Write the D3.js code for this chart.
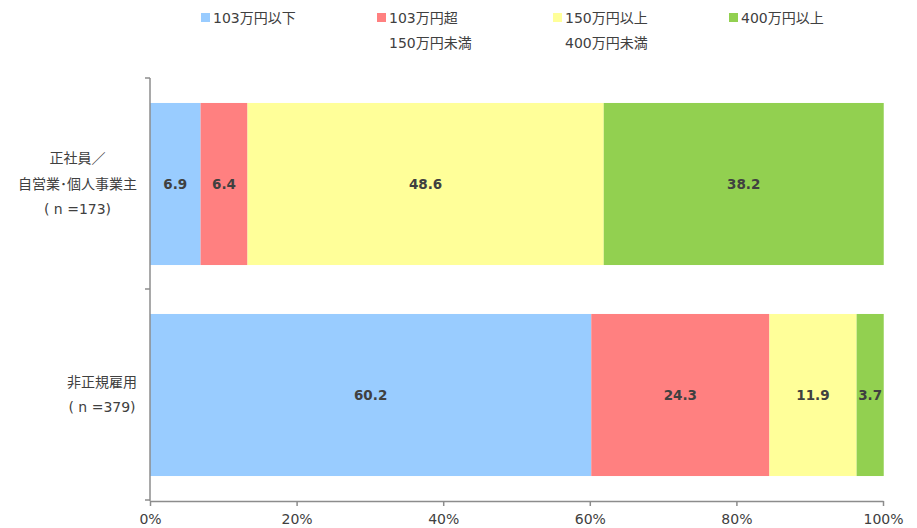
<!DOCTYPE html>
<html>
<head>
<meta charset="utf-8">
<script src="https://cdn.jsdelivr.net/npm/d3@7"></script>
<style>
  html, body { margin: 0; padding: 0; background: #fff; }
  svg text { font-family: "DejaVu Sans", "Noto Sans CJK JP", sans-serif; fill: #404040; }
</style>
</head>
<body>
<svg id="chart" width="917" height="528"></svg>
<script>
// Income brackets (legend), two labels lines each
const seriesNames = [
  ["103万円以下"],
  ["103万円超", "150万円未満"],
  ["150万円以上", "400万円未満"],
  ["400万円以上"]
];
const seriesColors = ["#99CCFF", "#FF8080", "#FFFF99", "#92D050"];

// Employment categories (y axis), multi-line labels
const categories = ["正社員／自営業・個人事業主", "非正規雇用"];
const categoryLabels = [
  ["正社員／", "自営業･個人事業主", "( n =173)"],
  ["非正規雇用", "( n =379)"]
];

// Share (%) per bracket for each category
const values = [
  [6.9, 6.4, 48.6, 38.2],
  [60.2, 24.3, 11.9, 3.7]
];

const xTicks = [0, 20, 40, 60, 80, 100];

const svg = d3.select("#chart");
const plotLeft = 150, plotRight = 883, plotTop = 78, plotBottom = 500;

const x = d3.scaleLinear().domain([0, 100]).range([plotLeft, plotRight]);
const pad = 0.232;
const y = d3.scaleBand().domain(categories).range([plotTop, plotBottom])
  .paddingInner(pad).paddingOuter(pad / 2);

// Stacked segments
categories.forEach((cat, ci) => {
  let acc = 0;
  const segs = values[ci].map((v, si) => {
    const s = { start: acc, end: acc + v, v, si };
    acc += v;
    return s;
  });
  const g = svg.append("g");
  g.selectAll("rect").data(segs).join("rect")
    .attr("x", d => x(d.start))
    .attr("y", y(cat) + 0.5)
    .attr("width", d => x(d.end) - x(d.start))
    .attr("height", y.bandwidth())
    .attr("fill", d => seriesColors[d.si]);
  g.selectAll("text").data(segs).join("text")
    .attr("x", d => (x(d.start) + x(d.end)) / 2)
    .attr("y", y(cat) + y.bandwidth() / 2 + 0.5)
    .attr("dy", "0.36em")
    .attr("text-anchor", "middle")
    .attr("font-size", 13.5)
    .attr("font-weight", "bold")
    .text(d => d.v.toFixed(1));
});

// X axis
const xAxis = svg.append("g")
  .attr("transform", `translate(0,${plotBottom + 1})`)
  .call(d3.axisBottom(x).tickValues(xTicks).tickFormat(d => d + "%").tickSize(5).tickSizeOuter(0));
xAxis.select(".domain").attr("stroke", "#8c8c8c").attr("stroke-width", 1.5);
xAxis.selectAll(".tick line").attr("stroke", "#8c8c8c").attr("stroke-width", 1.5);
xAxis.selectAll(".tick text").attr("font-size", 14).attr("dy", "1.05em").attr("fill", "#404040");

// Y axis: line with ticks at band boundaries
const step = y.step();
const boundaries = [plotTop].concat(categories.map(c => y(c) + y.bandwidth() + step * pad / 2));
const yAxis = svg.append("g");
yAxis.append("line")
  .attr("x1", plotLeft).attr("x2", plotLeft)
  .attr("y1", plotTop).attr("y2", plotBottom + 1)
  .attr("stroke", "#8c8c8c").attr("stroke-width", 1.5);
yAxis.selectAll("line.tick").data(boundaries).join("line")
  .attr("class", "tick")
  .attr("x1", plotLeft - 5).attr("x2", plotLeft)
  .attr("y1", d => d).attr("y2", d => d)
  .attr("stroke", "#8c8c8c").attr("stroke-width", 1.5);

// Category labels: each block right-aligned to the axis, lines centred within it
const lineH = 25.5;
const labelRight = 137;
categories.forEach((cat, ci) => {
  const lines = categoryLabels[ci];
  const cy = y(cat) + y.bandwidth() / 2;
  const t = svg.append("text")
    .attr("text-anchor", "middle")
    .attr("font-size", 14);
  const spans = lines.map((ln, li) => t.append("tspan")
    .attr("y", cy + (li - (lines.length - 1) / 2) * lineH)
    .attr("dy", "0.36em")
    .text(ln));
  const maxW = d3.max(spans, s => s.node().getComputedTextLength());
  spans.forEach(s => s.attr("x", labelRight - maxW / 2));
});

// Legend
const legend = svg.append("g");
seriesNames.forEach((lines, i) => {
  const lx = 201 + i * 176;
  legend.append("rect")
    .attr("x", lx).attr("y", 13)
    .attr("width", 9).attr("height", 9)
    .attr("fill", seriesColors[i]);
  lines.forEach((ln, li) => {
    legend.append("text")
      .attr("x", lx + 12)
      .attr("y", 18 + li * 25)
      .attr("dy", "0.36em")
      .attr("font-size", 14)
      .text(ln);
  });
});
</script>
</body>
</html>
